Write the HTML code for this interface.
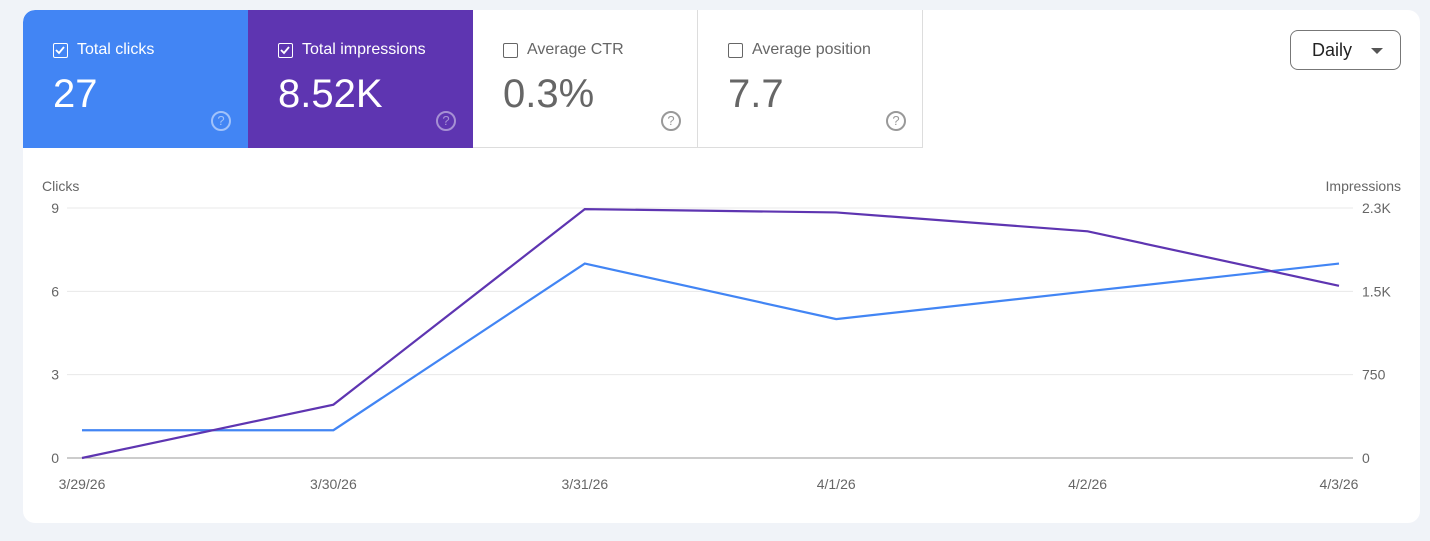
<!DOCTYPE html>
<html><head><meta charset="utf-8"><style>
*{box-sizing:border-box;margin:0;padding:0}
body{width:1430px;height:541px;background:#f0f3f8;font-family:"Liberation Sans",sans-serif;position:relative;overflow:hidden}
.card{position:absolute;left:23px;top:10px;width:1397px;height:513px;background:#fff;border-radius:12px;overflow:hidden}
.tile{position:absolute;top:0;width:225px;height:138px}
.lab{position:absolute;left:30px;top:31px;font-size:16px;display:flex;align-items:center}
.cb{width:15px;height:15px;border:1.5px solid;border-radius:2px;margin-right:9px;position:relative}
.val{position:absolute;left:30px;top:62px;font-size:40px}
.q{position:absolute;left:188px;top:101px;width:20px;height:20px;border:2px solid;border-radius:50%;font-size:13px;text-align:center;line-height:16px}
.daily{position:absolute;left:1267px;top:20px;width:111px;height:40px;border:1px solid #777;border-radius:8px;font-size:18px;color:#222;padding:9px 0 0 21px}
.daily:after{content:"";position:absolute;right:17px;top:17px;border:6px solid transparent;border-top:6px solid #555;border-bottom:0}
</style></head><body>
<div class="card">
 <div class="tile" style="left:0;background:#4285f4;color:#fff;border-top-left-radius:12px">
  <div class="lab"><span class="cb" style="border-color:#fff"><svg width="12" height="12" style="position:absolute;left:0;top:0"><path d="M2 6 L5 9 L10 3" stroke="#fff" stroke-width="1.8" fill="none"/></svg></span>Total clicks</div>
  <div class="val">27</div>
  <div class="q" style="border-color:rgba(255,255,255,.5);color:rgba(255,255,255,.5)">?</div>
 </div>
 <div class="tile" style="left:225px;background:#5e35b1;color:#fff">
  <div class="lab"><span class="cb" style="border-color:#fff"><svg width="12" height="12" style="position:absolute;left:0;top:0"><path d="M2 6 L5 9 L10 3" stroke="#fff" stroke-width="1.8" fill="none"/></svg></span>Total impressions</div>
  <div class="val">8.52K</div>
  <div class="q" style="border-color:rgba(255,255,255,.45);color:rgba(255,255,255,.45)">?</div>
 </div>
 <div class="tile" style="left:450px;color:#666;border-right:1px solid #ddd;border-bottom:1px solid #ddd">
  <div class="lab"><span class="cb" style="border-color:#666"></span>Average CTR</div>
  <div class="val">0.3%</div>
  <div class="q" style="border-color:#999;color:#999">?</div>
 </div>
 <div class="tile" style="left:675px;color:#666;border-right:1px solid #ddd;border-bottom:1px solid #ddd">
  <div class="lab"><span class="cb" style="border-color:#666"></span>Average position</div>
  <div class="val">7.7</div>
  <div class="q" style="border-color:#999;color:#999">?</div>
 </div>
 <div class="daily">Daily</div>
</div>
<svg id="chart" width="1430" height="541" style="position:absolute;left:0;top:0"></svg>
<script>
const dates=["3/29/26","3/30/26","3/31/26","4/1/26","4/2/26","4/3/26"];
const clicks=[1,1,7,5,6,7];
const impressions=[0,480,2240,2210,2040,1550];
const leftTicks=[0,3,6,9];
const rightTickLabels=["0","750","1.5K","2.3K"];
const rightMax=2250;
const leftMax=9;
const NS="http://www.w3.org/2000/svg";
const svg=document.getElementById('chart');
const x0=82,x1=1339,yb=458,yt=208;
const xs=i=>x0+(x1-x0)*i/(dates.length-1);
const yL=v=>yb-(yb-yt)*v/leftMax;
const yR=v=>yb-(yb-yt)*v/rightMax;
function mk(t,a,txt){const e=document.createElementNS(NS,t);for(const k in a)e.setAttribute(k,a[k]);if(txt!=null)e.textContent=txt;svg.appendChild(e);return e;}
leftTicks.forEach((v,i)=>{
 const y=yL(v);
 const g=mk('line',{x1:67,x2:1353,y1:y,y2:y,stroke:i==0?'#999':'#e8e8e8','stroke-width':1});
 
 
 const t=mk('text',{x:59,y:y+5,'text-anchor':'end','font-size':14,fill:'#666','font-family':'Liberation Sans'},String(v));
 
 
 const r=mk('text',{x:1362,y:y+5,'font-size':14,fill:'#666','font-family':'Liberation Sans'},rightTickLabels[i]);
 
 
});
const lt=mk('text',{x:42,y:191,'font-size':14,fill:'#666','font-family':'Liberation Sans'},'Clicks');


const rt=mk('text',{x:1401,y:191,'text-anchor':'end','font-size':14,fill:'#666','font-family':'Liberation Sans'},'Impressions');


dates.forEach((d,i)=>{
 const t=mk('text',{x:xs(i),y:489,'text-anchor':'middle','font-size':14,fill:'#666','font-family':'Liberation Sans'},d);
 
 
});
const ci=mk('polyline',{points:clicks.map((v,i)=>xs(i)+','+yL(v)).join(' '),fill:'none',stroke:'#4285f4','stroke-width':2.2});


const im=mk('polyline',{points:impressions.map((v,i)=>xs(i)+','+yR(v)).join(' '),fill:'none',stroke:'#5e35b1','stroke-width':2.2});


</script>
</body></html>
